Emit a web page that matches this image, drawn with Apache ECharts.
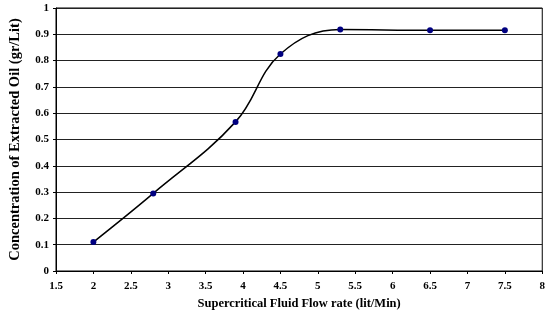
<!DOCTYPE html>
<html>
<head>
<meta charset="utf-8">
<script src="https://cdn.jsdelivr.net/npm/echarts@6/dist/echarts.min.js"></script>
<style>
  html, body { margin: 0; padding: 0; background: #fff; }
  #chart { width: 548px; height: 318px; }
</style>
</head>
<body>
<div id="chart"></div>
<script>
// flow rate (lit/Min) and extracted oil concentration (gr/Lit)
var flowRate = [2, 2.8, 3.9, 4.5, 5.3, 6.5, 7.5];
var concentration = [0.11, 0.295, 0.567, 0.825, 0.918, 0.915, 0.915];

var font = "Liberation Serif, Times New Roman, serif";

var myChart = echarts.init(document.getElementById("chart"));
myChart.setOption({
  animation: false,
  backgroundColor: "#fff",
  grid: {
    left: 54,
    right: 1,
    top: 8,
    bottom: 47,
    show: true,
    borderColor: "#000",
    borderWidth: 1
  },
  xAxis: {
    type: "value",
    min: 1.5,
    max: 8,
    interval: 0.5,
    name: "Supercritical Fluid Flow rate (lit/Min)",
    nameLocation: "middle",
    nameGap: 25,
    nameTextStyle: { fontFamily: font, fontWeight: "bold", fontSize: 12.5, color: "#000" },
    axisLine: { show: true, lineStyle: { color: "#000", width: 1 } },
    axisTick: { show: true, length: 3, lineStyle: { color: "#000" } },
    axisLabel: { fontFamily: font, fontWeight: "bold", fontSize: 11, color: "#000", margin: 10 },
    splitLine: { show: false }
  },
  yAxis: {
    type: "value",
    min: 0,
    max: 1,
    interval: 0.1,
    name: "Concentration of Extracted Oil (gr/Lit)",
    nameLocation: "middle",
    nameGap: 33,
    nameTextStyle: { fontFamily: font, fontWeight: "bold", fontSize: 14.5, color: "#000" },
    axisLine: { show: true, lineStyle: { color: "#000", width: 1 } },
    axisTick: { show: true, length: 3, lineStyle: { color: "#000" } },
    axisLabel: { fontFamily: font, fontWeight: "bold", fontSize: 11, color: "#000", margin: 7 },
    splitLine: { show: true, lineStyle: { color: "#222", width: 1 } }
  },
  series: [
    {
      type: "line",
      data: flowRate.map(function (x, i) { return [x, concentration[i]]; }),
      smooth: 0.4,
      symbol: "circle",
      symbolSize: 6,
      lineStyle: { color: "#000", width: 1.5 },
      itemStyle: { color: "#000080" }
    }
  ]
});
</script>
</body>
</html>
